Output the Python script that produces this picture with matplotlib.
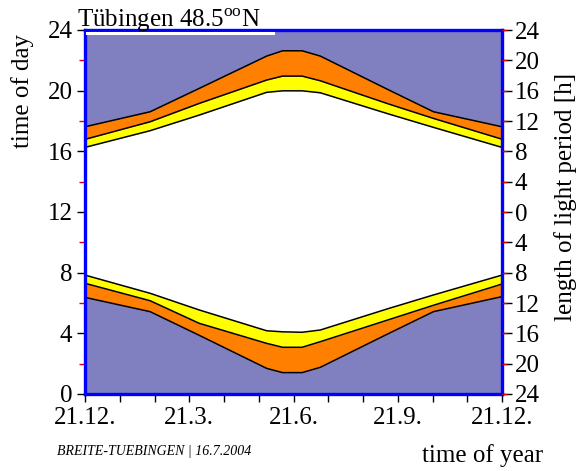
import numpy as np
import matplotlib.pyplot as plt
from matplotlib.lines import Line2D

plt.rcParams['font.family'] = ['Liberation Serif', 'DejaVu Serif']
plt.rcParams['mathtext.fontset'] = 'custom'
plt.rcParams['mathtext.rm'] = 'Liberation Serif'

# days after 21.12. at which the curves were read
days = [0, 57, 100, 159, 173, 190, 206, 265, 305, 365]

# evening: end of nautical twilight, end of civil twilight, sunset [h]
eve_naut = [17.62, 18.61, 20.15, 22.28, 22.63, 22.63, 22.28, 20.08, 18.61, 17.62]
eve_civil = [16.79, 17.95, 19.16, 20.70, 20.96, 20.96, 20.65, 19.14, 18.17, 16.80]
sunset = [16.26, 17.36, 18.39, 19.89, 19.99, 19.99, 19.86, 18.48, 17.58, 16.26]

# morning: sunrise, begin of civil twilight, begin of nautical twilight [h]
sunrise = [7.84, 6.64, 5.54, 4.17, 4.10, 4.07, 4.22, 5.62, 6.53, 7.84]
morn_civil = [7.30, 6.15, 4.66, 3.34, 3.08, 3.08, 3.45, 4.88, 5.85, 7.25]
morn_naut = [6.37, 5.43, 3.87, 1.69, 1.41, 1.41, 1.76, 3.96, 5.43, 6.42]

month_labels = ['21.12.', '21.3.', '21.6.', '21.9.', '21.12.']
hour_ticks = [0, 4, 8, 12, 16, 20, 24]
light_labels = ['24', '20', '16', '12', '8', '4', '0', '4', '8', '12', '16', '20', '24']

fig = plt.figure(figsize=(5.82, 4.71), dpi=100)
ax = fig.add_axes([85 / 582, 1 - 394 / 471, 417 / 582, 364 / 471])
ax.set_facecolor('#8080c0')

ax.fill_between(days, morn_naut, eve_naut, color='#ff8000', lw=0)
ax.fill_between(days, morn_civil, eve_civil, color='#ffff00', lw=0)
ax.fill_between(days, sunrise, sunset, color='white', lw=0)
for curve in [eve_naut, eve_civil, sunset, sunrise, morn_civil, morn_naut]:
    ax.plot(days, curve, color='black', lw=1.1)

ax.set_xlim(0, 365)
ax.set_ylim(0, 24)

for s in ax.spines.values():
    s.set_color('#0000ff')
    s.set_linewidth(2.4)

# x axis: month ticks, labels every quarter
ax.set_xticks(np.linspace(0, 365, 5))
ax.set_xticklabels(month_labels, fontsize=18)
ax.set_xticks(np.linspace(0, 365, 13), minor=True)
ax.tick_params(axis='x', which='both', direction='out', length=6, width=1,
               color='black', pad=3)

# left y axis
ax.set_yticks(hour_ticks)
ax.set_yticklabels([str(h) for h in hour_ticks], fontsize=18)
ax.set_yticks(np.arange(2, 24, 4), minor=True)
ax.tick_params(axis='y', which='major', direction='out', length=6, width=1,
               color='black', pad=3)
ax.tick_params(axis='y', which='minor', direction='out', length=4, width=1,
               color='#e00000')

# right y axis: length of light period
ax2 = ax.twinx()
ax2.set_ylim(0, 24)
ax2.set_yticks(np.arange(24, -1, -2))
ax2.set_yticklabels(light_labels, fontsize=18)
ax2.tick_params(axis='y', direction='out', length=7, width=1, color='black', pad=2)
for s in ax2.spines.values():
    s.set_visible(False)
ax3 = ax.twinx()
ax3.set_ylim(0, 24)
ax3.set_yticks(np.arange(24, -1, -2))
ax3.set_yticklabels([])
ax3.tick_params(axis='y', direction='out', length=3.5, width=1, color='#e00000')
for s in ax3.spines.values():
    s.set_visible(False)

fig.text(77 / 582, 1 - 27 / 471, 'Tübingen 48.5$^{\\rm oo}$N', fontsize=18,
         ha='left', va='baseline')
fig.add_artist(Line2D([87 / 582, 273 / 582], [1 - 33 / 471, 1 - 33 / 471],
                      color='white', lw=2.2))

fig.text(23 / 582, 1 - 91 / 471, 'time of day', fontsize=18, rotation=90,
         ha='center', va='center')
fig.text(566 / 582, 1 - 197 / 471, 'length of light period [h]', fontsize=18,
         rotation=90, ha='center', va='center')
fig.text(483 / 582, 1 - 462 / 471, 'time of year', fontsize=18,
         ha='center', va='baseline')
fig.text(57 / 582, 1 - 451 / 471, 'BREITE-TUEBINGEN | 16.7.2004', fontsize=10,
         style='italic', ha='left', va='center')

fig.savefig('out.png', dpi=100)
